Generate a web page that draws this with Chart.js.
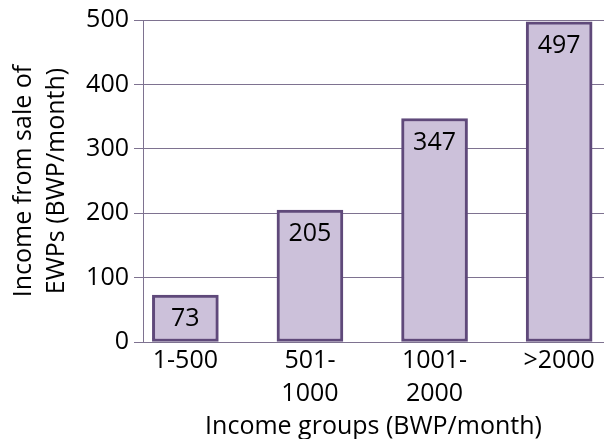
<!DOCTYPE html>
<html>
<head>
<meta charset="utf-8">
<script src="https://cdn.jsdelivr.net/npm/chart.js@4.4.0/dist/chart.umd.min.js"></script>
<style>
  html, body { margin: 0; padding: 0; background: #fff; }
  canvas { display: block; }
</style>
</head>
<body>
<canvas id="incomeChart" width="604" height="439"></canvas>
<script>
// values
const categories = [["1-500"], ["501-", "1000"], ["1001-", "2000"], [">2000"]];
const incomeValues = [73, 205, 347, 497];
const yTicks = [0, 100, 200, 300, 400, 500];

const fontFamily = "'Open Sans', sans-serif";
const gridColor = "#7e7290";

// draws the value inside each bar, near its top
const barValueLabels = {
  id: "barValueLabels",
  afterDatasetsDraw(chart) {
    const ctx = chart.ctx;
    const meta = chart.getDatasetMeta(0);
    ctx.save();
    ctx.font = "25px " + fontFamily;
    ctx.fillStyle = "#000";
    ctx.textAlign = "center";
    ctx.textBaseline = "middle";
    meta.data.forEach((bar, i) => {
      ctx.fillText(String(incomeValues[i]), bar.x, bar.y + 24);
    });
    ctx.restore();
  },
};

const ctx = document.getElementById("incomeChart");

new Chart(ctx, {
  type: "bar",
  data: {
    datasets: [
      {
        label: "Income from sale of EWPs",
        data: incomeValues.map((v, i) => ({ x: i, y: v })),
        backgroundColor: "#ccc1da",
        borderColor: "#5f497a",
        borderWidth: 3,
        borderSkipped: false,
        barThickness: 66,
      },
    ],
  },
  options: {
    responsive: false,
    animation: false,
    layout: { padding: { top: 19, right: 0, left: 0, bottom: 0 } },
    plugins: {
      legend: { display: false },
      tooltip: { enabled: false },
    },
    scales: {
      x: {
        type: "linear",
        offset: false,
        min: -0.34,
        max: 3.36,
        afterBuildTicks: (scale) => {
          scale.ticks = categories.map((c, i) => ({ value: i }));
        },
        afterFit: (scale) => {
          scale.height = 97;
        },
        grid: { display: false },
        border: { display: true, color: gridColor, width: 1 },
        ticks: {
          color: "#000",
          padding: -5,
          maxRotation: 0,
          autoSkip: false,
          font: { family: fontFamily, size: 25, lineHeight: 1.3 },
          callback: (value) => categories[value],
        },
        title: {
          display: true,
          text: "Income groups (BWP/month)",
          color: "#000",
          font: { family: fontFamily, size: 25, lineHeight: 1 },
          padding: 0,
        },
      },
      y: {
        min: 0,
        max: 500,
        afterBuildTicks: (scale) => {
          scale.ticks = yTicks.map((v) => ({ value: v }));
        },
        afterFit: (scale) => {
          scale.width = 143;
        },
        grid: { color: gridColor, lineWidth: 1, tickLength: 9 },
        border: { display: true, color: gridColor, width: 1 },
        ticks: {
          color: "#000",
          padding: 5,
          font: { family: fontFamily, size: 25 },
        },
        title: {
          display: true,
          text: ["Income from sale of", "EWPs (BWP/month)"],
          color: "#000",
          font: { family: fontFamily, size: 25, lineHeight: 1.32 },
          padding: { top: 7, bottom: 0 },
        },
      },
    },
  },
  plugins: [barValueLabels],
});
</script>
</body>
</html>
